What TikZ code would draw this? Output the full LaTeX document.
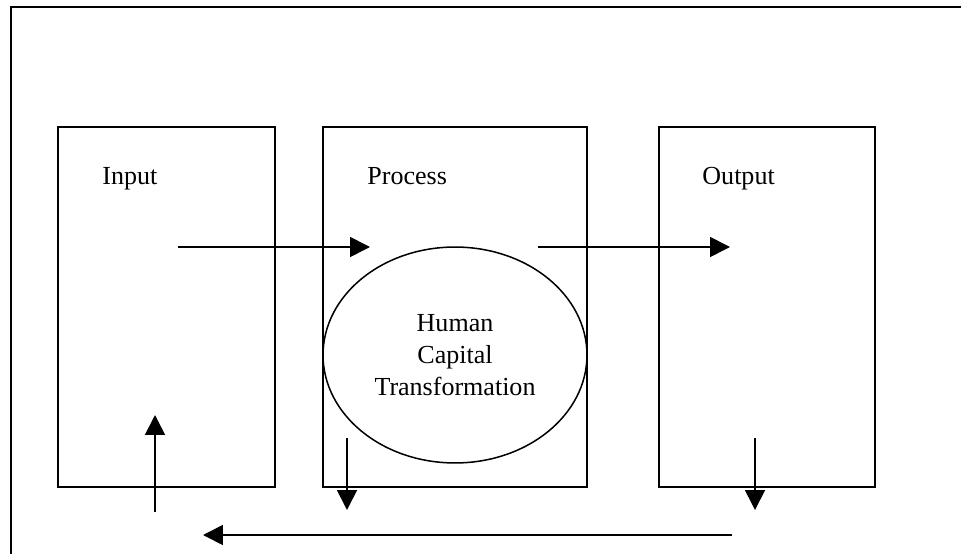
\documentclass[tikz,border=0pt]{standalone}
\usepackage{fontspec}
\setmainfont{Liberation Serif}
\usetikzlibrary{shapes.geometric, arrows.meta, positioning}

\tikzset{
	stage/.style={draw, line width=0.9pt, minimum height=5.832cm, inner sep=0pt},
	label/.style={anchor=base west, font=\fontsize{12}{14.7}\selectfont, inner sep=0pt},
	hcap/.style={draw, ellipse, line width=0.7pt, minimum width=4.277cm, minimum height=3.499cm,
		inner sep=0pt, align=center, font=\fontsize{12}{14.7}\selectfont},
	flow/.style={-{Triangle[length=9.2pt, width=9.2pt]}, line width=0.8pt}
}

\begin{document}
\begin{tikzpicture}[x=0.0162cm, y=-0.0162cm]
	% page and outer frame
	\clip (0,0) rectangle (961,554);
	\fill[white] (0,0) rectangle (961,554);
	\draw[line width=1pt] (11,7) rectangle (990,590);
	
	% the three stages
	\node[stage, minimum width=3.515cm] (input) at (166.5,307) {};
	\node[stage, minimum width=4.277cm] (process) at (455,307) {};
	\node[stage, minimum width=3.499cm] (output) at (767,307) {};
	
	% Labels for stages
	\node[label] (inlab) at (102,185) {Input};
	\node[label] (prlab) at (367,185) {Process};
	\node[label] (outlab) at (702,185) {Output};
	
	% Human capital ellipse
	\node[hcap] (hct) at (455,355) {Human\\Capital\\Transformation};
	
	% arrow ends
	\coordinate (inR) at (178,247);
	\coordinate (prL) at (370,247);
	\coordinate (prR) at (538,247);
	\coordinate (outL) at (730,247);
	\coordinate (prD1) at (347,438);
	\coordinate (prD2) at (347,510);
	\coordinate (outD1) at (755,438);
	\coordinate (outD2) at (755,510);
	\coordinate (fbR) at (732,535);
	\coordinate (fbL) at (203,535);
	\coordinate (inU1) at (155,512);
	\coordinate (inU2) at (155,415);
	
	% Draw the arrows
	\draw[flow] (inR) -- (prL);
	\draw[flow] (prR) -- (outL);
	\draw[flow] (prD1) -- (prD2);
	\draw[flow] (outD1) -- (outD2);
	\draw[flow] (fbR) -- (fbL);
	\draw[flow] (inU1) -- (inU2);
\end{tikzpicture}
\end{document}
